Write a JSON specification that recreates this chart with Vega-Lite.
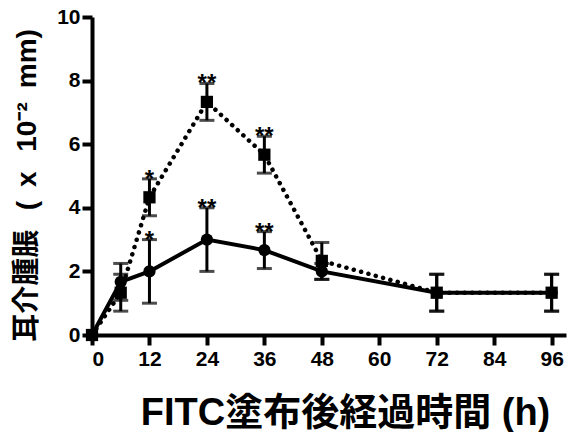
{
  "$schema": "https://vega.github.io/schema/vega-lite/v6.json",
  "width": 474,
  "height": 318,
  "autosize": {"type": "none"},
  "padding": {"left": 92, "top": 17, "right": 3, "bottom": 97},
  "background": "white",
  "config": {
    "view": {"stroke": null},
    "axis": {
      "grid": false,
      "domainColor": "black",
      "domainWidth": 4,
      "tickColor": "black",
      "tickWidth": 4,
      "tickSize": 10,
      "labelFont": "Liberation Sans",
      "labelFontWeight": "bold",
      "labelFontSize": 21,
      "labelColor": "black",
      "titleFont": "Liberation Sans, Noto Sans CJK JP",
      "titleFontWeight": "bold",
      "titleColor": "black"
    }
  },
  "data": {
    "values": [
      {"s": "A", "t": 0, "m": 0, "lo": 0, "hi": 0},
      {"s": "A", "t": 6, "m": 1.67, "lo": 1.09, "hi": 2.25},
      {"s": "A", "t": 12, "m": 2.0, "lo": 1.0, "hi": 3.0, "sig": "*"},
      {"s": "A", "t": 24, "m": 3.0, "lo": 2.0, "hi": 4.0, "sig": "**"},
      {"s": "A", "t": 36, "m": 2.67, "lo": 2.09, "hi": 3.25, "sig": "**"},
      {"s": "A", "t": 48, "m": 2.0, "lo": 1.75, "hi": 2.25},
      {"s": "A", "t": 72, "m": 1.33, "lo": 0.75, "hi": 1.91},
      {"s": "A", "t": 96, "m": 1.33, "lo": 0.75, "hi": 1.91},
      {"s": "B", "t": 0, "m": 0, "lo": 0, "hi": 0},
      {"s": "B", "t": 6, "m": 1.33, "lo": 0.75, "hi": 1.91},
      {"s": "B", "t": 12, "m": 4.33, "lo": 3.75, "hi": 4.91, "sig": "*"},
      {"s": "B", "t": 24, "m": 7.33, "lo": 6.75, "hi": 7.91, "sig": "**"},
      {"s": "B", "t": 36, "m": 5.67, "lo": 5.09, "hi": 6.25, "sig": "**"},
      {"s": "B", "t": 48, "m": 2.33, "lo": 1.75, "hi": 2.91},
      {"s": "B", "t": 72, "m": 1.33, "lo": 0.75, "hi": 1.91},
      {"s": "B", "t": 96, "m": 1.33, "lo": 0.75, "hi": 1.91}
    ]
  },
  "encoding": {
    "x": {
      "field": "t", "type": "quantitative",
      "scale": {"domain": [0, 99], "nice": false, "zero": true},
      "axis": {
        "values": [0, 12, 24, 36, 48, 60, 72, 84, 96],
        "labelPadding": 3,
        "title": "FITC塗布後経過時間 (h)",
        "titleFontSize": 38,
        "titleX": 253,
        "titleY": 89,
        "titleAlign": "center",
        "titleBaseline": "alphabetic"
      }
    }
  },
  "layer": [
    {
      "mark": {"type": "rule", "color": "black", "strokeWidth": 3},
      "encoding": {
        "y": {"field": "lo", "type": "quantitative",
          "scale": {"domain": [0, 10], "nice": false},
          "axis": {
            "values": [0, 2, 4, 6, 8, 10],
            "labelPadding": 2,
            "title": "耳介腫脹\u2002\u2009(\u2002x\u2002\u200910⁻²\u2002mm)",
            "titleFontSize": 28,
            "titleX": -65,
            "titleY": 168,
            "titleAngle": -90,
            "titleAlign": "center",
            "titleBaseline": "middle"
          }},
        "y2": {"field": "hi"}
      }
    },
    {
      "mark": {"type": "tick", "color": "black", "orient": "horizontal", "size": 15, "thickness": 3},
      "transform": [{"filter": "datum.t > 0"}],
      "encoding": {"y": {"field": "lo", "type": "quantitative"}}
    },
    {
      "mark": {"type": "tick", "color": "black", "orient": "horizontal", "size": 15, "thickness": 3},
      "transform": [{"filter": "datum.t > 0"}],
      "encoding": {"y": {"field": "hi", "type": "quantitative"}}
    },
    {
      "transform": [{"filter": "datum.s === 'B'"}],
      "mark": {"type": "line", "color": "black", "strokeWidth": 4.5, "strokeCap": "round", "strokeDash": [0.1, 7.5]},
      "encoding": {"y": {"field": "m", "type": "quantitative"}}
    },
    {
      "transform": [{"filter": "datum.s === 'A'"}],
      "mark": {"type": "line", "color": "black", "strokeWidth": 4},
      "encoding": {"y": {"field": "m", "type": "quantitative"}}
    },
    {
      "transform": [{"filter": "datum.s === 'A'"}],
      "mark": {"type": "point", "shape": "circle", "filled": true, "color": "black", "opacity": 1, "size": 150},
      "encoding": {"y": {"field": "m", "type": "quantitative"}}
    },
    {
      "transform": [{"filter": "datum.s === 'B'"}],
      "mark": {"type": "point", "shape": "square", "filled": true, "color": "black", "opacity": 1, "size": 150},
      "encoding": {"y": {"field": "m", "type": "quantitative"}}
    },
    {
      "transform": [{"filter": "isValid(datum.sig)"}],
      "mark": {"type": "text", "color": "black", "font": "Liberation Sans", "fontWeight": "bold", "fontSize": 24, "baseline": "alphabetic", "dy": 8},
      "encoding": {
        "y": {"field": "hi", "type": "quantitative"},
        "text": {"field": "sig"}
      }
    }
  ]
}
